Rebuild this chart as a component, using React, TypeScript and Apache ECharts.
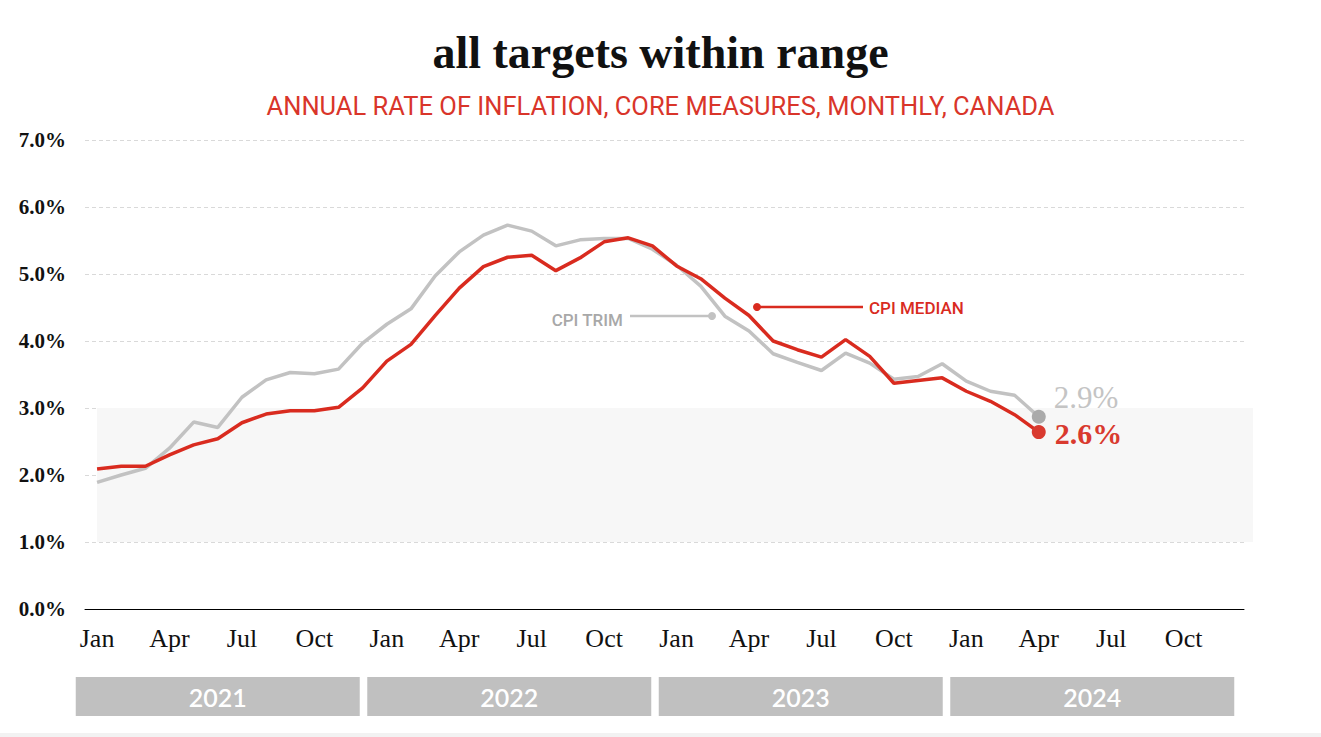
import React, { useEffect, useRef } from "react";
import * as echarts from "echarts";

const MONTHS = ["Jan", "Feb", "Mar", "Apr", "May", "Jun", "Jul", "Aug", "Sep", "Oct", "Nov", "Dec"];
const YEARS = ["2021", "2022", "2023", "2024"];
const CATEGORIES = YEARS.flatMap((y) => MONTHS.map((m) => `${m} ${y}`));

// Annual rate of inflation (%), Jan 2021 – Apr 2024
const CPI_TRIM = [
  1.89, 2.0, 2.1, 2.4, 2.79, 2.71, 3.16, 3.42, 3.53, 3.51, 3.58, 3.97,
  4.25, 4.48, 4.97, 5.33, 5.58, 5.73, 5.64, 5.42, 5.51, 5.53, 5.53, 5.37,
  5.13, 4.82, 4.37, 4.15, 3.81, 3.68, 3.56, 3.82, 3.67, 3.43, 3.47, 3.66,
  3.4, 3.25, 3.19, 2.87,
];
const CPI_MEDIAN = [
  2.09, 2.13, 2.13, 2.3, 2.45, 2.54, 2.78, 2.91, 2.96, 2.96, 3.01, 3.3,
  3.7, 3.95, 4.38, 4.79, 5.11, 5.25, 5.28, 5.05, 5.24, 5.48, 5.54, 5.42,
  5.12, 4.93, 4.64, 4.38, 4.0, 3.87, 3.76, 4.02, 3.77, 3.37, 3.41, 3.45,
  3.25, 3.1, 2.9, 2.64,
];
const TARGET_BAND = [1, 3];
const Y_MIN = 0;
const Y_MAX = 7;
const Y_STEP = 1;
const YEAR_BARS = [1, 1, 1, 1];

const RED = "#d92b1f";
const GRAY = "#c2c2c2";
const SERIF = "'Liberation Serif', 'DejaVu Serif', serif";
const SANS = "Roboto, 'Noto Sans', sans-serif";

export default function App() {
  const ref = useRef<HTMLDivElement>(null);

  useEffect(() => {
    if (!ref.current) return;
    const chart = echarts.init(ref.current, undefined, { renderer: "svg" });

    const lastIdx = CPI_TRIM.length - 1;
    const trimLast = CPI_TRIM[lastIdx];
    const medLast = CPI_MEDIAN[lastIdx];

    const option: any = {
      animation: false,
      backgroundColor: "#ffffff",
      textStyle: { fontFamily: SERIF },
      title: [
        {
          text: "all targets within range",
          left: "center",
          top: 24,
          textStyle: { fontFamily: SERIF, fontSize: 46, fontWeight: "bold", color: "#111" },
        },
        {
          text: "ANNUAL RATE OF INFLATION, CORE MEASURES, MONTHLY, CANADA",
          left: "center",
          top: 88,
          textStyle: { fontFamily: SANS, fontSize: 25.5, fontWeight: "normal", color: "#d9352a" },
        },
      ],
      grid: [
        { left: 85, right: 77, top: 140, bottom: 128 },
        { left: 97, right: 68, top: 140, bottom: 128 },
        { left: 72, right: 83, top: 677, height: 39 },
      ],
      xAxis: [
        {
          type: "category",
          gridIndex: 0,
          data: CATEGORIES,
          boundaryGap: true,
          z: 3,
          axisLine: { show: true, lineStyle: { color: "#000", width: 1 } },
          axisTick: { show: false },
          axisLabel: {
            interval: (i: number) => i % 3 === 0,
            formatter: (v: string) => v.split(" ")[0],
            fontFamily: SERIF,
            fontSize: 26,
            color: "#111",
            margin: 16,
          },
          splitLine: { show: false },
        },
        { type: "value", gridIndex: 1, min: 0, max: 1, show: false },
        { type: "category", gridIndex: 2, data: YEARS, show: false },
      ],
      yAxis: [
        {
          type: "value",
          gridIndex: 0,
          min: Y_MIN,
          max: Y_MAX,
          interval: Y_STEP,
          axisLine: { show: false },
          axisTick: { show: false },
          axisLabel: {
            formatter: (v: number) => `${v.toFixed(1)}%`,
            fontFamily: SERIF,
            fontWeight: "bold",
            fontSize: 21,
            color: "#111",
            margin: 19,
          },
          splitLine: {
            show: true,
            interval: (i: number) => i !== 0,
            lineStyle: { color: "#d9d9d9", type: [4, 3], width: 1 },
          },
          z: 1,
        },
        { type: "value", gridIndex: 1, min: Y_MIN, max: Y_MAX, show: false },
        { type: "value", gridIndex: 2, min: 0, max: 1, show: false },
      ],
      series: [
        {
          type: "line",
          xAxisIndex: 1,
          yAxisIndex: 1,
          data: [],
          z: -1,
          silent: true,
          markArea: {
            silent: true,
            itemStyle: { color: "#f7f7f7" },
            data: [[{ xAxis: 0, yAxis: TARGET_BAND[0] }, { xAxis: 1, yAxis: TARGET_BAND[1] }]],
          },
        },
        {
          name: "CPI TRIM",
          type: "line",
          data: CPI_TRIM,
          showSymbol: false,
          lineStyle: { color: GRAY, width: 3.5 },
          itemStyle: { color: GRAY },
          z: 3,
        },
        {
          name: "CPI MEDIAN",
          type: "line",
          data: CPI_MEDIAN,
          showSymbol: false,
          lineStyle: { color: RED, width: 3.5 },
          itemStyle: { color: RED },
          z: 4,
        },
        {
          type: "scatter",
          data: [[lastIdx, trimLast]],
          symbolSize: 14,
          itemStyle: { color: "#aaaaaa", opacity: 1 },
          z: 5,
          label: {
            show: true,
            position: "right",
            distance: 8,
            offset: [0, -19],
            formatter: () => `${trimLast.toFixed(1)}%`,
            fontFamily: SERIF,
            fontSize: 31,
            color: "#c4c4c4",
          },
        },
        {
          type: "scatter",
          data: [[lastIdx, medLast]],
          symbolSize: 14,
          itemStyle: { color: "#d93a2f", opacity: 1 },
          z: 6,
          label: {
            show: true,
            position: "right",
            distance: 9,
            offset: [0, 1],
            formatter: () => `${medLast.toFixed(1)}%`,
            fontFamily: SERIF,
            fontSize: 30,
            fontWeight: "bold",
            color: "#d93a2f",
          },
        },
        {
          type: "bar",
          xAxisIndex: 2,
          yAxisIndex: 2,
          data: YEAR_BARS,
          barWidth: 284,
          itemStyle: { color: "#c0c0c0" },
          silent: true,
          label: {
            show: true,
            position: "inside",
            formatter: (p: any) => YEARS[p.dataIndex],
            fontFamily: "Lato, 'Open Sans', sans-serif",
            fontSize: 25,
            fontWeight: 600,
            color: "#ffffff",
          },
        },
      ],
      graphic: [
        // CPI TRIM annotation
        { type: "line", shape: { x1: 630, y1: 316, x2: 712, y2: 316 }, style: { stroke: GRAY, lineWidth: 2.5 }, z: 10 },
        { type: "circle", shape: { cx: 712, cy: 316, r: 4 }, style: { fill: GRAY }, z: 10 },
        {
          type: "text",
          x: 623,
          y: 320,
          style: {
            text: "CPI TRIM",
            align: "right",
            verticalAlign: "middle",
            fontFamily: SANS,
            fontSize: 17,
            fontWeight: 500,
            fill: "#a8a8a8",
          },
          z: 10,
        },
        // CPI MEDIAN annotation
        { type: "line", shape: { x1: 757, y1: 307, x2: 863, y2: 307 }, style: { stroke: RED, lineWidth: 2.5 }, z: 10 },
        { type: "circle", shape: { cx: 757, cy: 307, r: 4 }, style: { fill: RED }, z: 10 },
        {
          type: "text",
          x: 869,
          y: 308,
          style: {
            text: "CPI MEDIAN",
            align: "left",
            verticalAlign: "middle",
            fontFamily: SANS,
            fontSize: 17,
            fontWeight: 500,
            fill: RED,
          },
          z: 10,
        },
        { type: "rect", shape: { x: 0, y: 733, width: 1321, height: 4 }, style: { fill: "#f2f2f2" }, z: 0 },
      ],
    };

    chart.setOption(option);
    return () => chart.dispose();
  }, []);

  return (
    <div
      ref={ref}
      style={{ position: "fixed", left: 0, top: 0, width: 1321, height: 737, background: "#fff" }}
    />
  );
}
